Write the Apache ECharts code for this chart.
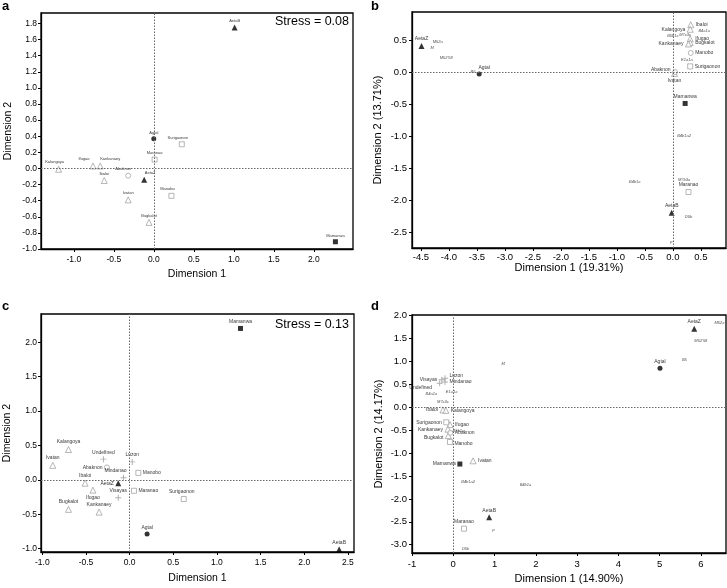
<!DOCTYPE html>
<html><head><meta charset="utf-8">
<script src="https://cdn.jsdelivr.net/npm/echarts@6/dist/echarts.min.js"></script>
<style>html,body{margin:0;padding:0;background:#fff}#c{width:727px;height:588px}</style>
</head><body><div id="c"></div>
<script>
// ---------- tick labels ----------
const aXTicks = [-1.0,-0.5,0.0,0.5,1.0,1.5,2.0];
const aYTicks = [-1.0,-0.8,-0.6,-0.4,-0.2,0.0,0.2,0.4,0.6,0.8,1.0,1.2,1.4,1.6,1.8];
const bXTicks = [-4.5,-4.0,-3.5,-3.0,-2.5,-2.0,-1.5,-1.0,-0.5,0.0,0.5];
const bYTicks = [-2.5,-2.0,-1.5,-1.0,-0.5,0.0,0.5];
const cXTicks = [-1.0,-0.5,0.0,0.5,1.0,1.5,2.0,2.5];
const cYTicks = [-1.0,-0.5,0.0,0.5,1.0,1.5,2.0];
const dXTicks = [-1,0,1,2,3,4,5,6];
const dYTicks = [-3.0,-2.5,-2.0,-1.5,-1.0,-0.5,0.0,0.5,1.0,1.5,2.0];

// ---------- panel a ----------
const aFilledTri = [['AetaB',1.01,1.75],['AetaZ',-0.12,-0.14]];
const aFilledCircle = [['Agtal',0.00,0.37]];
const aFilledSquare = [['Mamanwa',2.27,-0.91]];
const aOpenTri = [['Kalangoya',-1.19,-0.01],['Ifugao',-0.76,0.03],['Kankanaey',-0.67,0.03],['Ibaloi',-0.62,-0.15],['Ivatan',-0.32,-0.39],['Bugkalot',-0.06,-0.67]];
const aOpenCircle = [['Abaknon',-0.32,-0.09]];
const aOpenSquare = [['Surigaonon',0.35,0.30],['Maranao',0.01,0.11],['Manobo',0.22,-0.34]];

// ---------- panel b ----------
const bFilledTri = [['AetaZ',-4.49,0.41],['AetaB',-0.02,-2.20]];
const bFilledCircle = [['Agtal',-3.46,-0.03]];
const bFilledSquare = [['Mamanwa',0.22,-0.49]];
const bOpenTri = [['Ibaloi',0.32,0.74],['Kalangoya',0.31,0.67],['Ifugao',0.31,0.52],['Bugkalot',0.31,0.46],['Kankanaey',0.28,0.44],['Ivatan',0.03,-0.02]];
const bOpenCircle = [['Manobo',0.32,0.30],['Abaknon',0.04,0.00]];
const bOpenSquare = [['Surigaonon',0.31,0.09],['Maranao',0.28,-1.875]];
const bHaplo = [['M52a',-4.2,0.47],['M',-4.3,0.375],["M52'58",-4.05,0.23],['B5',-3.57,0.0],['B4a1a',0.56,0.65],['B5b1c',0.0,0.57],['M7c3c',0.22,0.58],['E1a1a',0.25,0.19],['B4b1a2',0.20,-0.99],['B4b1a',-0.68,-1.72],['M7b3a',0.20,-1.68],['D5b',0.28,-2.27],['P',-0.03,-2.67]];

// ---------- panel c ----------
const cFilledTri = [['AetaZ',-0.13,-0.05],['AetaB',2.40,-1.01]];
const cFilledCircle = [['Agtal',0.20,-0.79]];
const cFilledSquare = [['Mamanwa',1.27,2.20]];
const cOpenTri = [['Kalangoya',-0.70,0.44],['Ivatan',-0.88,0.21],['Ibaloi',-0.51,-0.05],['Ifugao',-0.42,-0.15],['Bugkalot',-0.70,-0.43],['Kankanaey',-0.35,-0.47]];
const cOpenCircle = [['Abaknon',-0.26,0.18]];
const cOpenSquare = [['Manobo',0.10,0.10],['Maranao',0.05,-0.16],['Surigaonon',0.62,-0.28]];
const cPlus = [['Undefined',-0.30,0.30],['Luzon',0.03,0.26],['Mindanao',-0.07,0.03],['Visayas',-0.13,-0.26]];

// ---------- panel d ----------
const dFilledTri = [['AetaZ',5.84,1.71],['AetaB',0.87,-2.40]];
const dFilledCircle = [['Agtal',5.01,0.85]];
const dFilledSquare = [['Mamanwa',0.16,-1.24]];
const dOpenTri = [['Ibaloi',-0.25,-0.06],['Kalangoya',-0.18,-0.07],['Ifugao',-0.08,-0.38],['Kankanaey',-0.13,-0.48],['Bugkalot',-0.12,-0.62],['Ivatan',0.48,-1.17]];
const dOpenCircle = [['Abaknon',-0.07,-0.56]];
const dOpenSquare = [['Surigaonon',-0.17,-0.33],['Manobo',-0.08,-0.76],['Maranao',0.26,-2.65]];
const dPlus = [['Visayas',-0.28,0.60],['Luzon',-0.20,0.63],['Mindanao',-0.20,0.55],['Undefined',-0.33,0.52]];
const dHaplo = [['M52a',6.45,1.83],["M52'58",6.0,1.45],['B5',5.6,1.03],['M',1.21,0.95],['E1a1a',-0.04,0.34],['B4a1a',-0.53,0.29],['M7c3c',-0.25,0.11],['B5b1c',0.12,-0.51],['B4b1a2',0.36,-1.64],['B4b1a',1.75,-1.69],['P',0.97,-2.69],['D5b',0.30,-3.09]];

// ---------- label placement (style, kept apart from data) ----------
const labelCfg = [
  { Kalangoya:{off:[-4,0]}, Ifugao:{off:[-9,0]}, Kankanaey:{off:[10,0]}, Abaknon:{off:[-5,0]}, AetaZ:{off:[6,0]}, Surigaonon:{off:[-4,0]}, Manobo:{off:[-4,0]} },
  { Ibaloi:{pos:'right'}, Kalangoya:{pos:'left'}, Ifugao:{pos:'right'}, Bugkalot:{pos:'right'}, Kankanaey:{pos:'left'}, Manobo:{pos:'right'}, Surigaonon:{pos:'right'}, Abaknon:{pos:'left',off:[0,-2]}, Ivatan:{pos:'bottom'}, Agtal:{off:[5,0]} },
  { Abaknon:{pos:'left'}, Manobo:{pos:'right'}, Mindanao:{off:[-8,0]}, AetaZ:{pos:'left'}, Ifugao:{pos:'bottom'}, Maranao:{pos:'right'}, Surigaonon:{off:[-2,0]} },
  { Mamanwa:{pos:'left'}, Ivatan:{pos:'right'}, Ibaloi:{pos:'left'}, Kalangoya:{pos:'right'}, Surigaonon:{pos:'left'}, Ifugao:{pos:'right'}, Kankanaey:{pos:'left'}, Abaknon:{pos:'right'}, Bugkalot:{pos:'left',off:[0,2]}, Manobo:{pos:'right',off:[0,2]}, Visayas:{pos:'left'}, Luzon:{pos:'right',off:[0,-3]}, Mindanao:{pos:'right'}, Undefined:{pos:'left',off:[-3,4]} }
];

const FONT = 'Liberation Sans, Arial, sans-serif';
const PLUS = 'path://M4.2,0H5.8V4.2H10V5.8H5.8V10H4.2V5.8H0V4.2H4.2Z';

const grids = [
  {left:41, top:13, width:312, height:236},
  {left:412, top:12, width:314, height:236},
  {left:41, top:314, width:313, height:238},
  {left:412, top:315, width:314, height:238}
].map(g => Object.assign({show:true, borderColor:'#000', borderWidth:1.3, backgroundColor:'transparent'}, g));

function fmt1(v){ return (Math.abs(v) < 1e-9 ? 0 : v).toFixed(1); }
function fmt0(v){ return String(Math.round(v)); }

function axis(gi, min, max, ticks, f, name, gap, fs, nfs, margin){
  return { type:'value', gridIndex:gi, min, max, name, nameLocation:'middle', nameGap:gap,
    nameTextStyle:{fontFamily:FONT, fontSize:nfs, color:'#000'},
    axisLine:{show:true, onZero:false, lineStyle:{color:'#000', width:1.3}},
    axisTick:{show:true, length:3, customValues:ticks, lineStyle:{color:'#000'}},
    axisLabel:{customValues:ticks, formatter:f, fontFamily:FONT, fontSize:fs, color:'#000', margin},
    splitLine:{show:false} };
}

function popSeries(gi, pts, kind, fs, size){
  const filled = kind.startsWith('f');
  const symbol = kind.endsWith('Tri') ? 'triangle' : kind.endsWith('Circle') ? 'circle' : kind.endsWith('Square') ? 'rect' : PLUS;
  const cfgs = labelCfg[gi];
  let itemStyle;
  if (kind === 'plus') itemStyle = {color:'#9a9a9a'};
  else if (filled) itemStyle = {color:'#000'};
  else itemStyle = {color:'#fff', borderColor:'#9a9a9a', borderWidth:0.9};
  return {
    type:'scatter', xAxisIndex:gi, yAxisIndex:gi, symbol,
    symbolSize: symbol==='triangle' ? size+1 : size, itemStyle, z:3,
    label:{show:true, position:'top', distance:1.5, formatter:p=>p.name, fontFamily:FONT, fontSize:fs, color:'#000'},
    data: pts.map(p => {
      const c = cfgs[p[0]];
      const d = {name:p[0], value:[p[1], p[2]]};
      if (c) d.label = {position: c.pos || 'top', offset: c.off || [0,0]};
      return d;
    }),
    animation:false
  };
}
function haploSeries(gi, pts, fs){
  return {
    type:'scatter', xAxisIndex:gi, yAxisIndex:gi, symbolSize:1, itemStyle:{color:'rgba(0,0,0,0)'}, z:3,
    label:{show:true, position:'inside', formatter:p=>p.name, fontFamily:FONT, fontSize:fs, fontStyle:'italic', color:'#222'},
    data: pts.map(p => ({name:p[0], value:[p[1], p[2]]})), animation:false
  };
}
function zeroLines(gi){
  return { type:'scatter', xAxisIndex:gi, yAxisIndex:gi, data:[], z:1, silent:true,
    markLine:{silent:true, symbol:['none','none'], label:{show:false}, animation:false,
      lineStyle:{type:[1.5,1.5], color:'#666', width:1},
      data:[{xAxis:0},{yAxis:0}]} };
}

const series = [];
const panels = [
  {ft:aFilledTri, fc:aFilledCircle, fs:aFilledSquare, ot:aOpenTri, oc:aOpenCircle, os:aOpenSquare, plus:[], haplo:[], lfs:4, size:5},
  {ft:bFilledTri, fc:bFilledCircle, fs:bFilledSquare, ot:bOpenTri, oc:bOpenCircle, os:bOpenSquare, plus:[], haplo:bHaplo, lfs:5, size:5},
  {ft:cFilledTri, fc:cFilledCircle, fs:cFilledSquare, ot:cOpenTri, oc:cOpenCircle, os:cOpenSquare, plus:cPlus, haplo:[], lfs:5, size:5},
  {ft:dFilledTri, fc:dFilledCircle, fs:dFilledSquare, ot:dOpenTri, oc:dOpenCircle, os:dOpenSquare, plus:dPlus, haplo:dHaplo, lfs:5, size:5}
];
panels.forEach((p, gi) => {
  series.push(zeroLines(gi));
  series.push(popSeries(gi, p.ot, 'oTri', p.lfs, p.size));
  series.push(popSeries(gi, p.oc, 'oCircle', p.lfs, p.size));
  series.push(popSeries(gi, p.os, 'oSquare', p.lfs, p.size));
  if (p.plus.length) series.push(popSeries(gi, p.plus, 'plus', p.lfs, 6));
  series.push(popSeries(gi, p.ft, 'fTri', p.lfs, p.size));
  series.push(popSeries(gi, p.fc, 'fCircle', p.lfs, p.size));
  series.push(popSeries(gi, p.fs, 'fSquare', p.lfs, p.size));
  if (p.haplo.length) series.push(haploSeries(gi, p.haplo, 4));
});

const option = {
  backgroundColor:'#fff',
  animation:false,
  grid: grids,
  xAxis: [
    axis(0, -1.41, 2.49, aXTicks, fmt1, 'Dimension 1', 20, 8.5, 10.5, 6),
    axis(1, -4.66, 0.95, bXTicks, fmt1, 'Dimension 1 (19.31%)', 14, 9.5, 11, 4),
    axis(2, -1.015, 2.57, cXTicks, fmt1, 'Dimension 1', 21, 8.5, 10.5, 6),
    axis(3, -1, 6.61, dXTicks, fmt0, 'Dimension 1 (14.90%)', 20, 9.5, 11, 6)
  ],
  yAxis: [
    axis(0, -1.0, 1.93, aYTicks, fmt1, 'Dimension 2', 27, 8.5, 10.5, 4),
    axis(1, -2.75, 0.94, bYTicks, fmt1, 'Dimension 2 (13.71%)', 29, 9.5, 11, 5),
    axis(2, -1.05, 2.41, cYTicks, fmt1, 'Dimension 2', 28, 8.5, 10.5, 4),
    axis(3, -3.18, 2.01, dYTicks, fmt1, 'Dimension 2 (14.17%)', 28, 9.5, 11, 5)
  ],
  graphic: [
    {type:'text', left:2, top:0, style:{text:'a', font:'bold 13px '+FONT, fill:'#000'}},
    {type:'text', left:371, top:0, style:{text:'b', font:'bold 13px '+FONT, fill:'#000'}},
    {type:'text', left:2, top:300, style:{text:'c', font:'bold 13px '+FONT, fill:'#000'}},
    {type:'text', left:371, top:300, style:{text:'d', font:'bold 13px '+FONT, fill:'#000'}},
    {type:'text', right:727-349, top:15, style:{text:'Stress = 0.08', font:'12.5px '+FONT, fill:'#000', align:'right'}},
    {type:'text', right:727-349, top:318, style:{text:'Stress = 0.13', font:'12.5px '+FONT, fill:'#000', align:'right'}}
  ],
  series
};
const chart = echarts.init(document.getElementById('c'), null, {renderer:'canvas'});
chart.setOption(option);
</script></body></html>
